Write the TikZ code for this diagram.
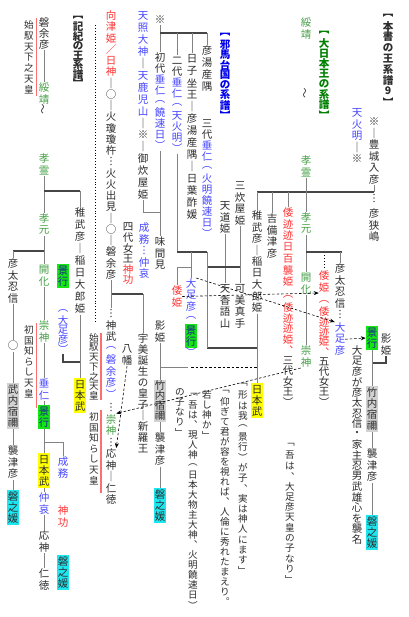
\documentclass[tikz,border=0pt]{standalone}
\usepackage{fontspec}
\usepackage{graphicx}
\setmainfont{Noto Sans CJK JP}
\usetikzlibrary{arrows.meta,calc}
\definecolor{tgreen}{RGB}{0,128,0}
\definecolor{ngreen}{RGB}{70,160,70}
\definecolor{tblue}{RGB}{0,0,235}
\definecolor{nblue}{RGB}{70,70,255}
\definecolor{nred}{RGB}{255,50,50}
\definecolor{nblack}{RGB}{45,45,45}
\definecolor{boxgreen}{RGB}{20,230,20}
\definecolor{boxtext}{RGB}{30,30,150}
\definecolor{boxyellow}{RGB}{255,255,0}
\definecolor{boxgray}{RGB}{210,210,210}
\definecolor{boxcyan}{RGB}{30,230,240}
\definecolor{redline}{RGB}{255,110,110}
\definecolor{lgray}{RGB}{130,130,130}
\definecolor{dgray}{RGB}{70,70,70}
\ExplSyntaxOn
\dim_new:N \l__vt_pitch_dim
\cs_new_protected:Npn \__vt_box:n #1
  {
    \hbox_to_wd:nn {1em}
      { \hss \vbox_to_ht:nn { \l__vt_pitch_dim } { \vss \hbox:n {#1} \vss } \hss }
  }
\NewDocumentCommand \VT { O{11.5pt} m }
  {
    \vbox:n
      {
        \offinterlineskip
        \dim_set:Nn \l__vt_pitch_dim {#1}
        \tl_map_inline:nn {#2}
          {
            \tl_if_single_token:nTF {##1}
              { \token_if_cs:NTF ##1 {##1} { \__vt_box:n {##1} } }
              { \__vt_box:n {##1} }
          }
      }
  }
\NewDocumentCommand \vtitem { m } { \__vt_box:n {#1} }
\ExplSyntaxOff
\newcommand\Kb{\color{nblue}}
\newcommand\Kg{\color{ngreen}}
\newcommand\Kr{\color{nred}}
\newcommand\Kk{\color{nblack}}
\newcommand\vwave{\vtitem{\rotatebox{90}{～}}}
\tikzset{
  vt/.style={inner sep=0pt, outer sep=0pt, anchor=north, text=nblack, font=\fontsize{10.5}{11}\selectfont},
  qt/.style={vt, font=\fontsize{9.6}{10}\selectfont},
  ttl/.style={vt, font=\fontsize{10.5}{11}\selectfont\bfseries},
  gbox/.style={vt, fill=boxgreen, text=boxtext, inner sep=1pt},
  ybox/.style={vt, fill=boxyellow, inner sep=1pt},
  kbox/.style={vt, fill=boxgray, inner sep=1pt},
  cbox/.style={vt, fill=boxcyan, inner sep=1pt},
  ln/.style={draw=lgray, line width=0.9pt},
  barline/.style={draw=dgray, line width=1.5pt},
  dar/.style={draw=black, line width=0.6pt, dash pattern=on 2.5pt off 2pt, -{Stealth[length=5pt,width=4pt]}},
  dln/.style={draw=black, line width=0.6pt, dash pattern=on 2.5pt off 2pt},
  dbl/.style={draw=dgray, double=white, double distance=1.2pt, line width=0.5pt},
  redrule/.style={draw=redline, line width=1.6pt},
}
\begin{document}
\begin{tikzpicture}[x=1pt,y=-1pt]
\fill[white] (0,0) rectangle (408,617);
\useasboundingbox (0,0) rectangle (408,617);

% ===== Section A : 本書の王系譜
\node[ttl] (tA) at (388,10) {\VT[10.8pt]{︻本書の王系譜9︼}};
\node[ttl,text=tgreen] (tB) at (324,28) {\VT[10.2pt]{︻大日本王の系譜︼}};
\node[vt] (a2) at (374,116) {\VT{※｜豊城入彦}};
\node[vt] (a2d) at (374,193) {\VT[11pt]{︙}};
\node[vt] (a3) at (374,208) {\VT{彦狭嶋}};
\node[vt] (a4) at (357,107) {\VT{\Kb 天火明\Kk ｜※}};
\node[vt] (a6) at (306,17) {\VT{\Kg 綏靖}};
\node[vt] (a7) at (306,88) {\VT{\vwave}};
\node[vt] (a8) at (306,155) {\VT{\Kg 孝霊}};
\node[vt] (a9) at (306,212) {\VT{\Kg 孝元}};
\node[vt] (a10) at (306,272) {\VT{\Kg 開化}};
\node[vt] (a11) at (306,345) {\VT{\Kg 崇神}};
\node[vt] (a12) at (340,263) {\VT{彦太忍信︙}};
\node[vt] (a13) at (340,322) {\VT{\Kb 大足彦}};
\node[vt] (a14) at (357,345) {\VT[10.5pt]{大足彦が彦太忍信・家主忍男武雄心を襲名}};
\node[vt] (a15) at (324,270) {\VT{\Kr 倭姫}};
\node[vt] (a16) at (324,297) {\VT[10pt]{\Kr ︵倭迹迹姫︑\Kk 五代女王︶}};
\node[gbox] (a17) at (372,326) {\VT[11pt]{景行}};
\node[vt] (a18) at (386,333) {\VT{影姫}};
\node[kbox] (a19) at (372,386) {\VT[11pt]{竹内宿禰}};
\node[vt] (a20) at (372,448) {\VT{襲津彦}};
\node[cbox] (a21) at (372,515) {\VT[11pt]{磐之媛}};

\draw[ln] (a2.south) -- (374,192);
\draw[barline] (257,192) -- (374,192);
\draw[ln] (a8.south) -- (a9.north);
\draw[ln] (a9.south) -- (a10.north);
\draw[ln] (a10.south) -- (a11.north);
\draw[barline] (306,252) -- (342,252);
\draw[ln] (340,252) -- (a12.north);
\draw[dotted, line width=1pt] (324,255) -- (a15.north);
\draw[barline] (a18.south) -- (386,363) -- (372,363);
\draw[ln] (a17.south) -- (a19.north);
\draw[ln] (a19.south) -- (a20.north);
\draw[ln] (a20.south) -- (a21.north);

% ===== Section B
\node[vt] (b1) at (288,207) {\VT{\Kr 倭迹迹日百襲姫}};
\node[vt] (b2) at (288,292) {\VT[10.5pt]{\Kr ︵倭迹迹姫︑\Kk 三代女王︶}};
\node[vt] (b3) at (272,213) {\VT{吉備津彦}};
\node[vt] (b4) at (257,210) {\VT{稚武彦｜稲日大郎姫}};
\node[ybox] (b5) at (257,383) {\VT[11pt]{日本武}};
\node[vt] (b6) at (240,180) {\VT{三炊屋姫}};
\node[vt] (b7) at (225,200) {\VT{天道姫}};
\node[vt] (b8) at (240,283) {\VT{可美真手}};
\node[vt] (b9) at (225,283) {\VT{天香語山}};
\node[qt] (b10) at (290,440) {\VT[10.3pt]{﹁吾は︑大足彦天皇の子なり﹂}};
\node[qt] (b11) at (243,380) {\VT[10.3pt]{﹁形は我︵景行︶が子︑実は神人にます﹂}};
\node[qt] (b12) at (225,387) {\VT[10pt]{﹁仰ぎて君が容を視れば︑人倫に秀れたまえり︒}};
\node[qt] (b13) at (207,390) {\VT[10pt]{若し神か﹂}};
\node[qt] (b14) at (193,390) {\VT[10pt]{﹁吾は︑現人神︵日本大物主大神︑火明饒速日︶}};
\node[qt] (b15) at (180,387) {\VT[10pt]{の子なり﹂}};

\draw[ln] (288,192) -- (b1.north);
\draw[ln] (272,192) -- (b3.north);
\draw[ln] (257,192) -- (b4.north);
\draw[ln] (b4.south) -- (b5.north);
\draw[ln] (b6.south) -- (b8.north);
\draw[ln] (b7.south) -- (b9.north);
\draw[barline] (207,267) -- (240,267);
\draw[barline] (207,348) -- (257,348);
\draw[dln] (191,367) -- (257,367);

% ===== Section C : 邪馬台国の系譜
\node[ttl,text=tblue] (tC) at (225,30) {\VT[10pt]{︻邪馬台国の系譜︼}};
\node[vt] (c0) at (160,14) {\VT{※}};
\node[vt] (c3) at (160,52) {\VT[11pt]{初代\Kb 垂仁︵饒速日︶}};
\node[vt] (c4) at (177,55) {\VT[11pt]{二代\Kb 垂仁︵天火明︶}};
\node[vt] (c5) at (192,53) {\VT[12pt]{日子坐王｜彦湯産隅｜日葉酢媛}};
\node[vt] (c2) at (207,45) {\VT[12pt]{彦湯産隅}};
\node[vt] (c21) at (207,118) {\VT[11pt]{三代\Kb 垂仁︵火明饒速日︶}};
\node[vt] (c6) at (143,10) {\VT[11.9pt]{\Kb 天照大神\Kk ｜\Kb 天鹿児山\Kk ｜※｜御炊屋姫}};
\node[vt] (c7) at (111,10) {\VT[11.25pt]{\Kr 向津姫／日神\Kk ｜○｜火瓊瓊杵︙火火出見｜○｜磐余彦}};
\node[vt] (c9) at (160,236) {\VT{味間見}};
\node[vt] (c10) at (144,222) {\VT{\Kb 成務︙仲哀}};
\node[vt] (c11) at (128,222) {\VT[10.5pt]{四代女王\Kr 神功}};
\node[vt] (c12) at (111,308) {\VT{︙神武\Kb ︵磐余彦︶}};
\node[vt] (c13a) at (111,402) {\VT{︙}};
\node[vt] (c13s) at (111,413.5) {\VT{\Kg 崇神}};
\node[vt] (c13b) at (111,436.5) {\VT{︙}};
\node[vt] (c13o) at (111,448) {\VT{応神｜仁徳}};
\node[vt] (c14) at (127,343) {\VT{八幡}};
\node[vt] (c15) at (143,333) {\VT[11pt]{宇美誕生の皇子｜新羅王}};
\node[vt] (c16) at (160,320) {\VT{影姫}};
\node[kbox] (c17) at (160,380) {\VT[10pt]{竹内宿禰}};
\node[vt] (c18) at (160,432) {\VT{襲津彦}};
\node[cbox] (c18b) at (160,488) {\VT[11pt]{磐之媛}};
\node[vt] (c19) at (177,285) {\VT{\Kr 倭姫}};
\node[vt] (c20) at (191,278) {\VT{\Kb 大足彦︵}};
\node[gbox] (c20k) at (191,324) {\VT[11pt]{景行}};
\node[vt] (c20p) at (191,348) {\VT[9pt]{\Kb ︶}};
\node[qt] (c22) at (94,333) {\VT[9.7pt]{始馭天下之天皇}};
\node[qt] (c23) at (94,412) {\VT[10.5pt]{初国知らし天皇}};

\draw[ln] (c0.south) -- (c3.north);
\draw[barline] (160,33) -- (207,33);
\draw[ln] (177,33) -- (c4.north);
\draw[ln] (192,33) -- (c5.north);
\draw[ln] (207,33) -- (c2.north);
\draw[dbl] (c21.south) -- (207,252);
\draw[ln] (207,252) -- (207,348);
\draw[ln] (c4.south) -- (177,252);
\draw[dbl] (c5.south) -- (192,252);
\draw[barline] (177,252) -- (207,252);
\draw[ln] (191,252) -- (c20.north);
\draw[ln] (191,267) -| (c19.north);
\draw[ln] (c6.south) |- (160,212);
\draw[ln] (c3.south) -- (c9.north);
\draw[dbl] (c11.south) -- (128,294);
\draw[barline] (111,294) -- (143,294);
\draw[ln] (c7.south) -- (c12.north);
\draw[ln] (143,294) -- (c15.north);
\draw[ln] (c16.south) -- (160,367) -- (188,367);
\draw[ln] (160,367) -- (c17.north);
\draw[dbl] (c20p.south) -- (191,367);
\draw[ln] (c17.south) -- (c18.north);
\draw[ln] (c18.south) -- (c18b.north);
\draw[redrule] (101,333) -- (101,400);
\draw[redrule] (101,410) -- (101,493);
\draw[dotted, line width=0.9pt] (95,25) -- (95,322);
\draw[dbl] ($(c7.north east)+(2,21)$) -- ($(c6.north west)+(-2,21)$);

% ===== Section D : 記紀の王系譜
\node[ttl] (tD) at (78,13) {\VT[9.4pt]{︻記紀の王系譜︼}};
\node[vt] (d3) at (44,17) {\VT[11pt]{磐余彦}};
\node[vt] (d3b) at (44,82) {\VT{\Kg 綏靖}};
\node[vt] (d3c) at (44,104) {\VT{\vwave}};
\node[qt] (d4) at (29,20) {\VT[10.7pt]{始馭天下之天皇}};
\node[vt] (d5) at (44,153) {\VT{\Kg 孝霊}};
\node[vt] (d6) at (44,213) {\VT{\Kg 孝元}};
\node[vt] (d7) at (44,264) {\VT{\Kg 開化}};
\node[vt] (d8) at (44,320) {\VT{\Kg 崇神}};
\node[vt] (d9) at (44,378) {\VT{\Kb 垂仁}};
\node[gbox] (d10) at (44,405) {\VT[11pt]{景行}};
\node[ybox] (d11) at (44,453) {\VT[11pt]{日本武}};
\node[vt] (d13) at (80,207) {\VT[12pt]{稚武彦｜稲日大郎姫}};
\node[ybox] (d14) at (80,378) {\VT[11pt]{日本武}};
\node[gbox] (d15) at (63,264) {\VT[11pt]{景行}};
\node[vt] (d16) at (63,306) {\VT[9.5pt]{\Kb ︵大足彦︶}};
\node[vt] (d17) at (13,258) {\VT{彦太忍信}};
\node[vt] (d17c) at (13,340) {\VT{○}};
\node[kbox] (d18) at (13,383) {\VT[11pt]{武内宿禰}};
\node[vt] (d19) at (13,445) {\VT{襲津彦}};
\node[cbox] (d20) at (13,490) {\VT[11pt]{磐之媛}};
\node[qt] (d21) at (29,325) {\VT[10.5pt]{初国知らし天皇}};
\node[vt] (d22) at (63,456) {\VT{\Kb 成務}};
\node[vt] (d24) at (44,492) {\VT{\Kb 仲哀}};
\node[vt] (d23) at (63,505) {\VT{\Kr 神功}};
\node[vt] (d25) at (44,530) {\VT{応神}};
\node[cbox] (d26) at (63,555) {\VT[11pt]{磐之媛}};
\node[vt] (d27) at (44,568) {\VT{仁徳}};

\draw[ln] (d3.south) -- (d3b.north);
\draw[redrule] (36.5,18) -- (36.5,96);
\draw[ln] (d5.south) -- (d6.north);
\draw[ln] (d6.south) -- (d7.north);
\draw[ln] (d7.south) -- (d8.north);
\draw[ln] (d8.south) -- (d9.north);
\draw[ln] (d9.south) -- (d10.north);
\draw[ln] (d10.south) -- (d11.north);
\draw[ln] (d11.south) -- (d24.north);
\draw[ln] (d24.south) -- (d25.north);
\draw[ln] (d25.south) -- (d27.north);
\draw[barline] (44,191) -- (80,191);
\draw[ln] (80,191) -- (d13.north);
\draw[barline] (13,251) -- (44,251);
\draw[ln] (13,251) -- (d17.north);
\draw[ln] (d13.south) -- (d14.north);
\draw[barline] (d16.south) -- (63,362) -- (80,362);
\draw[ln] (d17.south) -- (d17c.north);
\draw[ln] (d17c.south) -- (d18.north);
\draw[ln] (d18.south) -- (d19.north);
\draw[ln] (d19.south) -- (d20.north);
\draw[redrule] (36.5,323) -- (36.5,408);
\draw[ln] (44,442) -| (d22.north);

% ===== dashed correspondences
\draw[dar] (c19.east) -- (a15.south west);
\draw[dar] (c20.north east) -- (a13.north west);
\draw[dar] (a13.east) -- (a17.west);
\draw[dar] (a11.south west) -- (c13s.north east);
\draw[dar] (c14.south) -- (c13o.north east);
\end{tikzpicture}
\end{document}
